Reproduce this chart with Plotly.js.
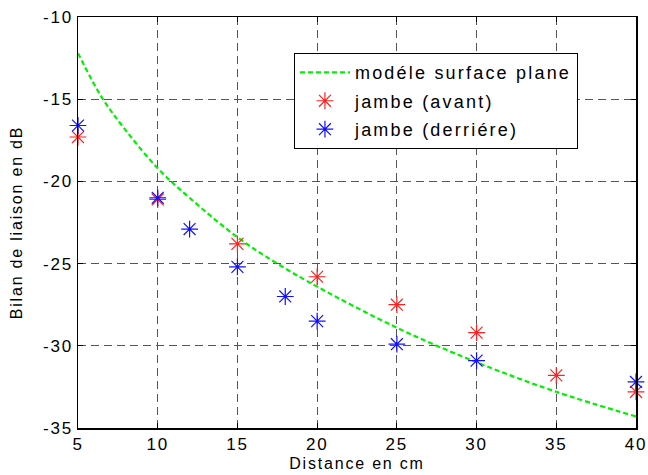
<!DOCTYPE html>
<html>
<head>
<meta charset="utf-8">
<script src="https://cdn.plot.ly/plotly-3.0.1.min.js"></script>
<style>html,body{margin:0;padding:0;background:#fff;}#chart{width:648px;height:475px;}svg text{letter-spacing:1.8px;}svg text.legendtext{letter-spacing:2.2px;}</style>
</head>
<body>
<div id="chart"></div>
<script>
// Model curve
const modelX = [5, 6.5, 8, 10, 12, 15, 17.5, 20, 25, 30, 35, 40];
const modelY = [-12.2, -14.9, -16.9, -19.2, -21.0, -23.4, -25.0, -26.4, -28.9, -31.0, -32.8, -34.3];
// jambe (avant)
const avantX = [5, 10, 15, 20, 25, 30, 35, 40];
const avantY = [-17.3, -21.1, -23.8, -25.8, -27.5, -29.2, -31.8, -32.8];
// jambe (derrière)
const derriereX = [5, 10, 12, 15, 18, 20, 25, 30, 40];
const derriereY = [-16.6, -21.0, -22.9, -25.2, -27.0, -28.5, -29.9, -30.9, -32.2];

const xTicks = [5, 10, 15, 20, 25, 30, 35, 40];
const yTicks = [-35, -30, -25, -20, -15, -10];

const font = "Liberation Sans, Arial, sans-serif";

const traces = [
  {x: modelX, y: modelY, mode: 'lines', name: 'modéle surface plane',
   line: {color: '#00f000', width: 2.2, dash: '5px,3px', shape: 'spline'}, legendgroup: 'a', cliponaxis: false},
  {x: avantX, y: avantY, mode: 'markers', name: 'jambe (avant)',
   marker: {symbol: 'asterisk-open', size: 14, color: '#ff2020', line: {color: '#ff2020', width: 1.2}},
   legendgroup: 'b', cliponaxis: false},
  {x: derriereX, y: derriereY, mode: 'markers', name: 'jambe (derriére)',
   marker: {symbol: 'asterisk-open', size: 14, color: '#1010ff', line: {color: '#1010ff', width: 1.2}},
   legendgroup: 'c', cliponaxis: false}
];

const axisCommon = {
  showline: true, linecolor: '#000', linewidth: 1.5, mirror: 'ticks',
  ticks: 'inside', ticklen: 5, tickcolor: '#000', tickwidth: 1,
  showgrid: true, gridcolor: '#555', griddash: '8px,5px', gridwidth: 1,
  zeroline: false, tickfont: {family: font, size: 17, color: '#000'}
};

const layout = {
  width: 648, height: 475,
  margin: {l: 78, r: 12, t: 17, b: 47},
  paper_bgcolor: '#fff', plot_bgcolor: '#fff',
  font: {family: font, color: '#000'},
  showlegend: true,
  legend: {x: 0.387, y: 0.912, xanchor: 'left', yanchor: 'top',
    bgcolor: '#fff', bordercolor: '#000', borderwidth: 1, itemwidth: 50,
    font: {family: font, size: 18, color: '#000'}, tracegroupgap: 2, traceorder: 'grouped'},
  xaxis: Object.assign({}, axisCommon, {
    range: [5, 40], tickvals: xTicks, ticktext: xTicks.map(String),
    title: {text: 'Distance en cm', font: {family: font, size: 16, color: '#000'}, standoff: 5}
  }),
  yaxis: Object.assign({}, axisCommon, {
    range: [-35, -10], tickvals: yTicks, ticktext: yTicks.map(String),
    title: {text: 'Bilan de liaison en dB', font: {family: font, size: 16, color: '#000'}, standoff: 16}
  })
};

Plotly.newPlot('chart', traces, layout, {displayModeBar: false, staticPlot: true});
</script>
</body>
</html>
